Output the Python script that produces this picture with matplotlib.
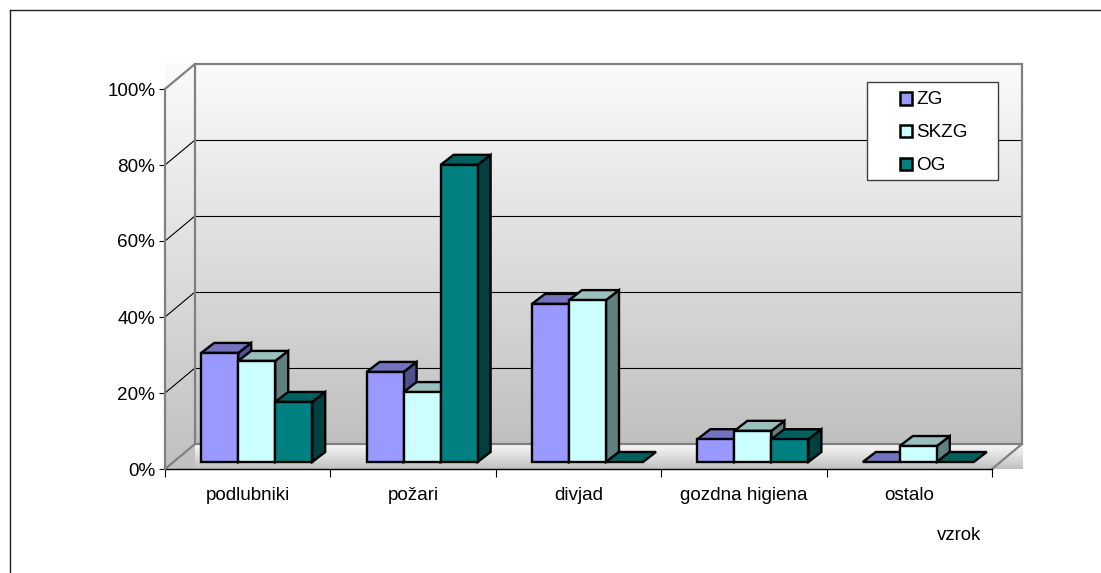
import numpy as np
import matplotlib
matplotlib.use('Agg')
import matplotlib.pyplot as plt
import matplotlib.colors as mcolors
from matplotlib.patches import Polygon, Rectangle
from matplotlib.lines import Line2D

categories = ['podlubniki', 'požari', 'divjad', 'gozdna higiena', 'ostalo']
series_names = ['ZG', 'SKZG', 'OG']
zg = [28.7, 23.7, 41.6, 6.0, 0.0]
skzg = [26.6, 18.4, 42.6, 8.2, 4.2]
og = [15.8, 78.2, 0.0, 6.0, 0.0]
y_ticks = [0, 20, 40, 60, 80, 100]
y_labels = ['0%', '20%', '40%', '60%', '80%', '100%']

front_colors = ['#9999FF', '#CCFFFF', '#008080']
top_colors = ['#7373BF', '#99BFBF', '#006060']
side_colors = ['#50508C', '#608080', '#004040']

W, H = 1101, 573
plt.rcParams['font.family'] = ['Liberation Sans', 'DejaVu Sans']
plt.rcParams['font.size'] = 13.6

fig = plt.figure(figsize=(W / 100, H / 100), dpi=100)
# plot box in pixels: x 165..992, y 89..469
ax = fig.add_axes([165 / W, 1 - 469 / H, 827 / W, 380 / H])

px = 5 / 827      # data units per pixel, x
py = 100 / 380    # data units per pixel, y
wall_dx, wall_dy = 30 * px, 25 * py
gap_dx, gap_dy = 9 * px, 7 * py
bar_w = 37 * px
bar_dx, bar_dy = 13 * px, 10 * py

# walls and floor
wall_cmap = mcolors.LinearSegmentedColormap.from_list('wall', ['#FBFBFB', '#C0C0C0'])
floor_cmap = mcolors.LinearSegmentedColormap.from_list('floor', ['#FAFAFA', '#C0C0C0'])
grad = np.linspace(0, 1, 256).reshape(-1, 1)
ax.imshow(grad, cmap=wall_cmap, aspect='auto', zorder=0, clip_on=False,
          extent=(0, wall_dx, 0, 100 + wall_dy))
ax.imshow(grad, cmap=wall_cmap, aspect='auto', zorder=0, clip_on=False,
          extent=(wall_dx, 5 + wall_dx, wall_dy, 100 + wall_dy))
ax.imshow(grad, cmap=floor_cmap, aspect='auto', zorder=0, clip_on=False,
          extent=(wall_dx, 5 + wall_dx, 0, wall_dy))

# grid on back and left wall
for t in y_ticks[1:-1]:
    ax.plot([wall_dx, 5 + wall_dx], [t + wall_dy] * 2, color='black', lw=0.8, zorder=1, clip_on=False)
    ax.plot([0, wall_dx], [t, t + wall_dy], color='black', lw=0.8, zorder=1, clip_on=False)

# wall outlines
edge = dict(color='#808080', lw=1.6, zorder=1, clip_on=False, solid_joinstyle='miter')
ax.plot([0, wall_dx, wall_dx], [100, 100 + wall_dy, wall_dy], **edge)
ax.plot([wall_dx, 5 + wall_dx, 5 + wall_dx, wall_dx],
        [100 + wall_dy, 100 + wall_dy, wall_dy, wall_dy], **edge)
ax.plot([0, wall_dx], [0, wall_dy], **edge)
ax.plot([5, 5 + wall_dx], [0, wall_dy], **edge)


def draw_bar(x, v, i):
    y = gap_dy
    top = y + v
    style = dict(edgecolor='black', lw=1.7, joinstyle='miter', zorder=3, clip_on=False)
    if v > 0:
        ax.add_patch(Polygon([(x + bar_w, y), (x + bar_w + bar_dx, y + bar_dy),
                              (x + bar_w + bar_dx, top + bar_dy), (x + bar_w, top)],
                             facecolor=side_colors[i], **style))
    ax.add_patch(Polygon([(x, top), (x + bar_dx, top + bar_dy),
                          (x + bar_w + bar_dx, top + bar_dy), (x + bar_w, top)],
                         facecolor=top_colors[i], **style))
    if v > 0:
        ax.add_patch(Rectangle((x, y), bar_w, v, facecolor=front_colors[i], **style))


for c in range(len(categories)):
    left = c + 0.5 - 1.5 * bar_w + gap_dx
    for i, vals in enumerate([zg, skzg, og]):
        draw_bar(left + i * bar_w, vals[c], i)

ax.set_xlim(0, 5)
ax.set_ylim(0, 100)
ax.set_facecolor('none')

for s in ['top', 'right']:
    ax.spines[s].set_visible(False)
ax.spines['bottom'].set_color('black')
ax.spines['bottom'].set_linewidth(1)
ax.spines['left'].set_color('#808080')
ax.spines['left'].set_linewidth(1.6)
ax.spines['bottom'].set_zorder(2)

ax.set_xticks(range(6))
ax.set_xticklabels([])
ax.set_xticks(np.arange(5) + 0.5, categories, minor=True)
ax.tick_params(axis='x', which='major', length=6, width=0.8, color='black')
ax.tick_params(axis='x', which='minor', length=0, pad=13, labelsize=13.6)
ax.set_yticks(y_ticks, y_labels)
ax.tick_params(axis='y', length=4, width=0.8, color='black', pad=3, labelsize=13.6)

fig.text(937 / W, 1 - 535.5 / H, 'vzrok', ha='left', va='center', fontsize=13.4)

# legend box
fig.add_artist(Rectangle((867 / W, 1 - 180 / H), 131 / W, 98 / H, transform=fig.transFigure,
                         facecolor='white', edgecolor='#404040', lw=1, zorder=5))
for i, name in enumerate(series_names):
    yc = 1 - (98.5 + 32.5 * i) / H
    fig.add_artist(Rectangle((900 / W, yc - 6 / H), 12 / W, 12 / H, transform=fig.transFigure,
                             facecolor=front_colors[i], edgecolor='black', lw=1.8, zorder=6))
    fig.text(916.5 / W, yc - 1.5 / H, name, ha='left', va='center', fontsize=13.6, zorder=6)

# outer chart frame, only left and top edges are inside the picture
for xs, ys in [([10, 10], [573, 10]), ([10, 1101], [10, 10])]:
    fig.add_artist(Line2D([x / W for x in xs], [1 - y / H for y in ys], color='#202020', lw=1))

fig.savefig('out.png', dpi=100)
